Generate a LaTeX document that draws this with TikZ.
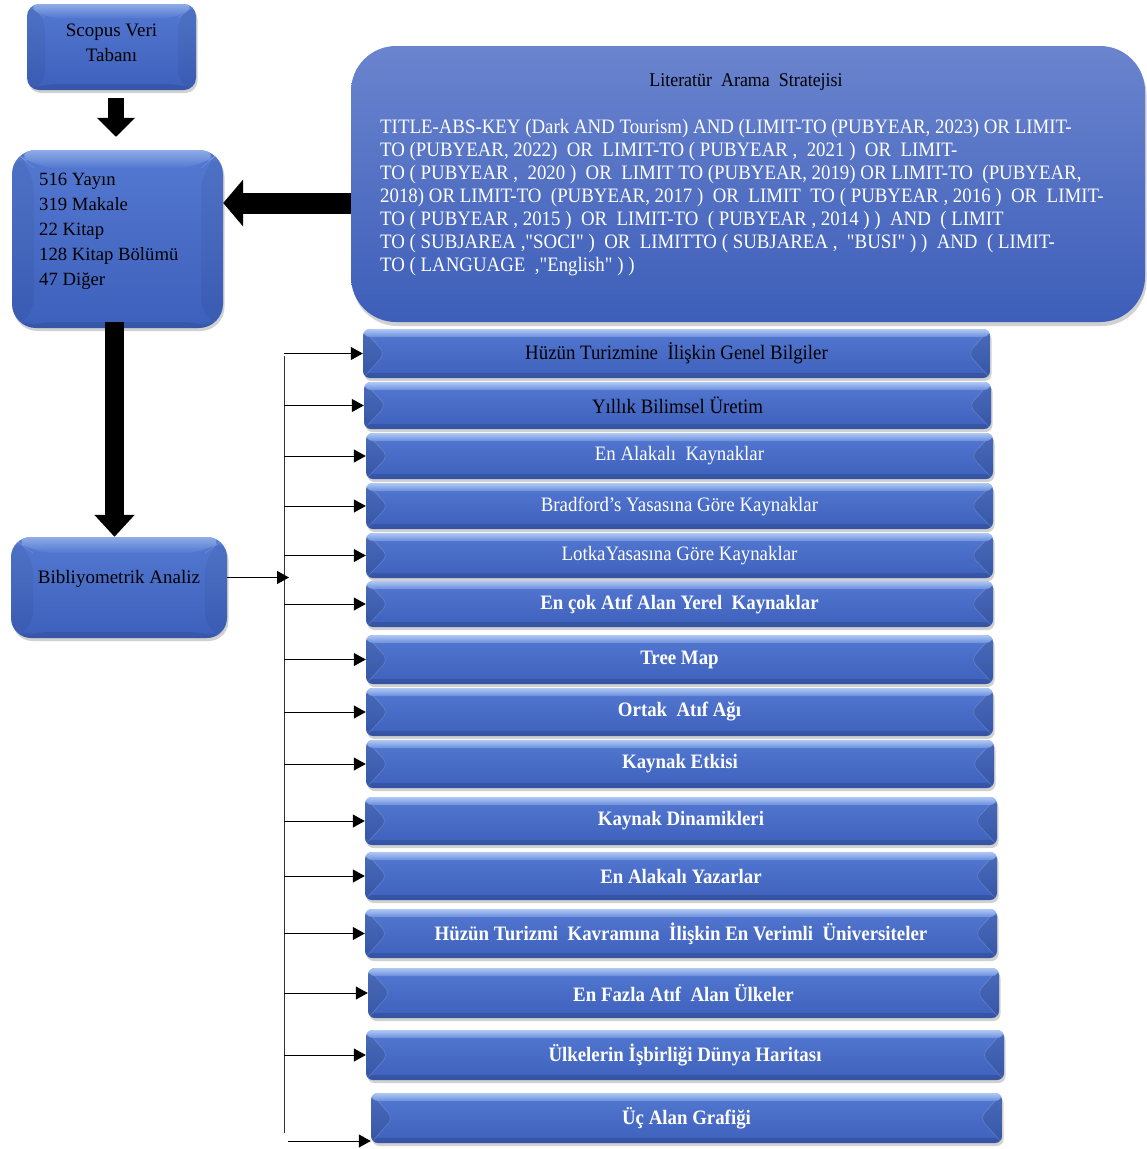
\documentclass[tikz,border=0pt]{standalone}
\usepackage{fontspec}
\setmainfont{Liberation Serif}
\newfontfamily\condfont{Liberation Serif}[FakeStretch=0.92]
\usetikzlibrary{arrows.meta,shadows,calc}

\definecolor{bodytop}{HTML}{5479D1}
\definecolor{bodybot}{HTML}{3D60BC}
\definecolor{facettop}{HTML}{B0C9F4}
\definecolor{facetbot}{HTML}{6A8EDD}
\definecolor{strattop}{HTML}{6A84CE}
\definecolor{stratbot}{HTML}{3D5EB9}

\tikzset{
  x=1pt, y=-1pt,
  % list-box bevel: chevron side facets, light top band, dark bottom band
  bevel/.style n args={3}{path picture={
    \path (path picture bounding box.north west) coordinate (@nw)
          (path picture bounding box.north east) coordinate (@ne)
          (path picture bounding box.south west) coordinate (@sw)
          (path picture bounding box.south east) coordinate (@se)
          (path picture bounding box.west) coordinate (@w)
          (path picture bounding box.east) coordinate (@e);
    \fill[black, opacity=0.11] (@nw) -- ([xshift=#1pt]@w) -- (@sw) -- cycle;
    \fill[black, opacity=0.11] (@ne) -- ([xshift=-#1pt]@e) -- (@se) -- cycle;
    \draw[white, opacity=0.18, line width=0.6pt] (@nw) -- ([xshift=#1pt]@w) -- (@sw)
                                                   (@ne) -- ([xshift=-#1pt]@e) -- (@se);
    \shade[top color=facettop, bottom color=facetbot]
      (@nw) rectangle ([yshift=-#2pt]@ne);
    \fill[black, opacity=0.13] (@sw) rectangle ([yshift=#3pt]@se);
  }},
  % big-box bevel: soft trapezoid facets
  bigbevel/.style n args={2}{path picture={
    \path (path picture bounding box.north west) coordinate (@nw)
          (path picture bounding box.north east) coordinate (@ne)
          (path picture bounding box.south west) coordinate (@sw)
          (path picture bounding box.south east) coordinate (@se);
    \coordinate (@inw) at ([shift={(#1pt,-#2pt)}]@nw);
    \coordinate (@ine) at ([shift={(-#1pt,-#2pt)}]@ne);
    \coordinate (@isw) at ([shift={(#1pt,6pt)}]@sw);
    \coordinate (@ise) at ([shift={(-#1pt,6pt)}]@se);
    \shade[top color=facettop!80!bodytop, bottom color=bodytop, opacity=0.8] (@nw) -- (@ne) -- (@ine) -- (@inw) -- cycle;
    \fill[black, opacity=0.05] (@nw) -- (@inw) -- (@isw) -- (@sw) -- cycle;
    \fill[black, opacity=0.05] (@ne) -- (@ine) -- (@ise) -- (@se) -- cycle;
    \fill[black, opacity=0.10] (@sw) -- (@isw) -- (@ise) -- (@se) -- cycle;
    \draw[white, opacity=0.15, line width=0.6pt] (@nw) -- (@inw) (@ne) -- (@ine);
  }},
  basebox/.style={draw=none, rounded corners=#1, top color=bodytop, bottom color=bodybot,
    drop shadow={shadow xshift=1.5pt, shadow yshift=-3pt, opacity=0.3, fill=black!60}},
  bigbox/.style n args={3}{basebox=#1, bigbevel={#2}{#3}, inner sep=0pt},
  listbox/.style 2 args={basebox=7pt, bevel={22}{8}{5}, inner sep=0pt,
    minimum width=#1pt, minimum height=#2pt},
  ltxt/.style={font=\condfont\fontsize{20.5}{24}\selectfont, text=black},
  ltxtw/.style={font=\condfont\fontsize{20.5}{24}\selectfont, text=white},
  ltxtb/.style={font=\condfont\bfseries\fontsize{20.5}{24}\selectfont, text=white},
  thinarr/.style={draw=black, line width=1pt, -{Triangle[length=12pt,width=13pt]}},
  thinline/.style={draw=black!80, line width=1pt},
}

\begin{document}
\begin{tikzpicture}
\useasboundingbox (0,0) rectangle (1147,1149);

% ---- top-left boxes ----
\node[bigbox={12pt}{18}{14}, minimum width=169pt, minimum height=86pt] (scopus) at (111.5,47) {};
\node[font=\fontsize{19}{25}\selectfont, align=center] (scopust) at ([yshift=4pt]scopus.center)
      {Scopus Veri\\Taban\i};
\node[bigbox={24pt}{22}{18}, minimum width=211pt, minimum height=178pt] (n516) at (117.5,239) {};
\node[anchor=north west, inner sep=0pt, align=left, font=\fontsize{18.7}{25}\selectfont] (n516t) at (39,173)
      {516 Yay\i n\\319 Makale\\22 Kitap\\128 Kitap Bölümü\\47 Diğer};
\node[bigbox={20pt}{22}{16}, minimum width=216pt, minimum height=101pt] (biblio) at (119,587.5) {};
\node[font=\fontsize{19}{22}\selectfont] (bibliot) at ([yshift=9pt]biblio.center) {Bibliyometrik Analiz};

% ---- strategy box ----
\node[draw=none, rounded corners=45pt, top color=strattop, bottom color=stratbot,
      minimum width=794pt, minimum height=276pt,
      drop shadow={shadow xshift=1.5pt, shadow yshift=-4pt, opacity=0.3, fill=black!60}] (strat) at (748,184) {};
\node[font=\condfont\fontsize{19.5}{23}\selectfont] (stitle) at (746,82) {Literatür\ \ Arama\ \ Stratejisi};
\node[anchor=north west, inner sep=0pt, align=left, text=white, font=\condfont\fontsize{20.5}{23}\selectfont] (stext) at (380,119)
  {TITLE-ABS-KEY (Dark AND Tourism) AND (LIMIT-TO (PUBYEAR, 2023) OR LIMIT-\\
   TO (PUBYEAR, 2022)\ \ OR\ \ LIMIT-TO ( PUBYEAR ,\ \ 2021 )\ \ OR\ \ LIMIT-\\
   TO ( PUBYEAR\ ,\ \ 2020 )\ \ OR\ \ LIMIT TO (PUBYEAR, 2019) OR LIMIT-TO\ \ (PUBYEAR,\\
   2018) OR LIMIT-TO\ \ (PUBYEAR, 2017 )\ \ OR\ \ LIMIT\ \ TO ( PUBYEAR\ ,\ 2016 )\ \ OR\ \ LIMIT-\\
   TO ( PUBYEAR\ ,\ 2015 )\ \ OR\ \ LIMIT-TO\ \ ( PUBYEAR\ ,\ 2014 ) )\ \ AND\ \ ( LIMIT\\
   TO ( SUBJAREA ,"SOCI" )\ \ OR\ \ LIMITTO ( SUBJAREA\ ,\ \ "BUSI" ) )\ \ AND\ \ ( LIMIT-\\
   TO ( LANGUAGE\ \ ,"English" ) )};

% ---- list boxes ----
\node[listbox={627}{49}, ltxt]  (b1)  at (676.5,353.5) {Hüzün\ Turizmine\ \ İlişkin Genel\ Bilgiler};
\node[listbox={627}{47}, ltxt]  (b2)  at (677.5,405.5) {Y\i ll\i k Bilimsel Üretim};
\node[listbox={627}{46}, ltxtw] (b3)  at (679.5,456)   {En Alakal\i\ \ Kaynaklar};
\node[listbox={627}{46}, ltxtw] (b4)  at (679.5,506)   {Bradford’s Yasas\i na Göre Kaynaklar};
\node[listbox={627}{45}, ltxtw] (b5)  at (679.5,555.5) {LotkaYasas\i na Göre Kaynaklar};
\node[listbox={627}{46}, ltxtb] (b6)  at (679.5,604)   {En çok\ Atıf\ Alan Yerel\ \ Kaynaklar};
\node[listbox={627}{49}, ltxtb] (b7)  at (679.5,659.5) {Tree Map};
\node[listbox={627}{48}, ltxtb] (b8)  at (679.5,712)   {Ortak\ \ Atıf\ Ağı};
\node[listbox={628}{48}, ltxtb] (b9)  at (680,764)     {Kaynak Etkisi};
\node[listbox={632}{48}, ltxtb] (b10) at (681,821)     {Kaynak Dinamikleri};
\node[listbox={632}{48}, ltxtb] (b11) at (681,876)     {En Alakalı Yazarlar};
\node[listbox={632}{49}, ltxtb] (b12) at (681,933.5)   {Hüzün\ Turizmi\ \ Kavramına\ \ İlişkin En Verimli\ \ Üniversiteler};
\node[listbox={631}{50}, ltxtb] (b13) at (683.5,993)   {En Fazla Atıf\ \ Alan Ülkeler};
\node[listbox={638}{50}, ltxtb] (b14) at (685,1055)    {Ülkelerin İşbirliği Dünya Haritası};
\node[listbox={631}{50}, ltxtb] (b15) at (686.5,1118)  {Üç Alan Grafiği};

% ---- block arrows ----
\draw[line width=16pt, -{Triangle[length=19pt,width=37pt]}, shorten <=8pt, shorten >=13pt]
  ([xshift=-1.5pt]n516.north |- scopus.south) -- ([xshift=-1.5pt]n516.north);
\coordinate (sa) at (strat.west |- 0,203);
\draw[line width=21pt, -{Triangle[length=20pt,width=46pt]}] (sa) -- (sa -| n516.east);
\draw[line width=19pt, -{Triangle[length=22pt,width=39pt]}, shorten <=-6pt]
  ([xshift=-3pt]n516.south) -- ([xshift=-3pt]n516.south |- biblio.north);

% ---- thin connectors ----
\coordinate (bustop) at (284,356);
\coordinate (busbot) at (284,1133);
\draw[thinline] (bustop) -- (busbot);
\draw[thinarr] ([yshift=10pt]biblio.east) -- ([shift={(5pt,10pt)}]biblio.east -| bustop);
\foreach \b in {b1,b2,b3,b4,b5,b6,b7,b8,b9,b10,b11,b12,b13,b14}{
  \draw[thinarr] (bustop |- \b.west) -- (\b.west);
}
\coordinate (lastfrom) at (288,1141);
\draw[thinarr] (lastfrom) -- (lastfrom -| b15.west);
\end{tikzpicture}
\end{document}
